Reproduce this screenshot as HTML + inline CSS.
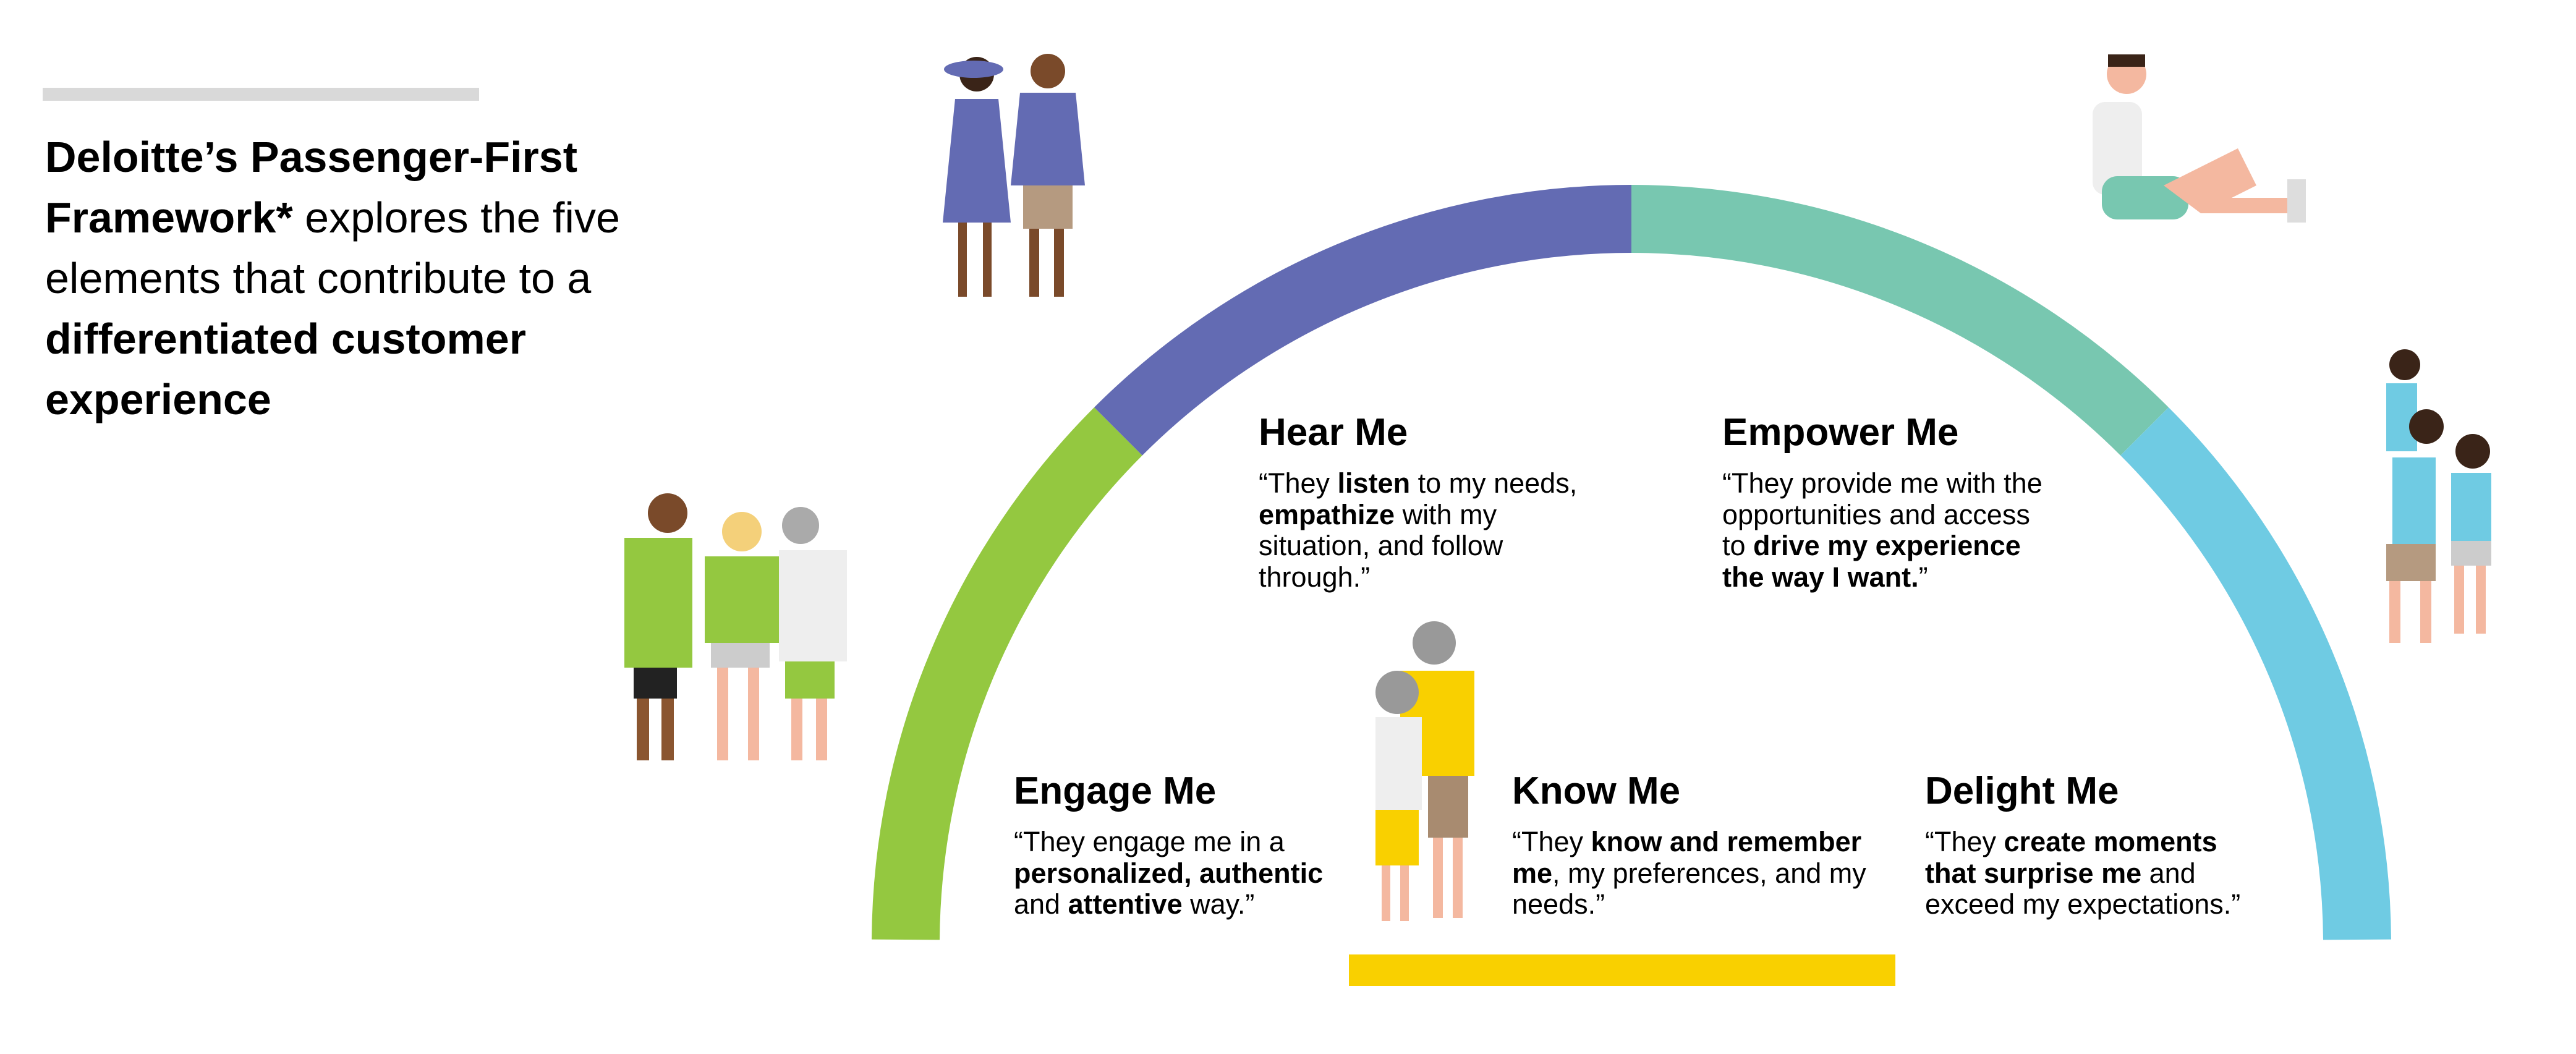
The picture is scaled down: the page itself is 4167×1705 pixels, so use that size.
<!DOCTYPE html>
<html><head><meta charset="utf-8"><style>
html,body{margin:0;padding:0;background:#fff;}
body{width:4167px;height:1705px;position:relative;overflow:hidden;font-family:"Liberation Sans",sans-serif;color:#000;}
.t{position:absolute;}
.title{left:73px;top:205px;font-size:70px;line-height:98px;width:1150px;white-space:nowrap;}
h2{position:absolute;margin:0;font-size:62px;font-weight:bold;line-height:70px;}
.b{position:absolute;font-size:45px;line-height:50.5px;white-space:nowrap;}
svg{position:absolute;left:0;top:0;}
</style></head><body>
<svg width="4167" height="1705" viewBox="0 0 4167 1705">
<rect x="69" y="142" width="706" height="21" fill="#d9d9d9"/>
<g fill="none" stroke-width="110">
<path d="M1465 1520 A1174 1174 0 0 1 1808.9 697.9" stroke="#94c840"/>
<path d="M1808.9 697.9 A1174 1174 0 0 1 2639 354" stroke="#636bb3"/>
<path d="M2639 354 A1174 1174 0 0 1 3469.1 697.9" stroke="#78c7b0"/>
<path d="M3469.1 697.9 A1174 1174 0 0 1 3813 1520" stroke="#6fcbe3"/>
</g>
<rect x="2182" y="1544" width="884" height="51" fill="#f9d000"/>
<g>
<circle cx="1580" cy="120" r="28" fill="#3a2418"/><ellipse cx="1575" cy="112" rx="48" ry="14" fill="#636bb3"/>
<path d="M1545 160 h70 l20 200 h-110z" fill="#636bb3"/>
<rect x="1550" y="360" width="14" height="120" fill="#7a4a2a"/><rect x="1590" y="360" width="14" height="120" fill="#7a4a2a"/>
<circle cx="1695" cy="115" r="28" fill="#7a4a2a"/>
<path d="M1650 150 h90 l15 150 h-120z" fill="#636bb3"/>
<rect x="1655" y="300" width="80" height="70" fill="#b59a80"/>
<rect x="1665" y="370" width="16" height="110" fill="#7a4a2a"/><rect x="1705" y="370" width="16" height="110" fill="#7a4a2a"/>
</g>
<g>
<circle cx="1080" cy="830" r="32" fill="#7a4a2a"/><rect x="1010" y="870" width="110" height="210" fill="#94c840"/>
<rect x="1025" y="1080" width="70" height="50" fill="#222"/><rect x="1030" y="1130" width="20" height="100" fill="#8a5530"/><rect x="1070" y="1130" width="20" height="100" fill="#8a5530"/>
<circle cx="1200" cy="860" r="32" fill="#f4d07a"/><rect x="1140" y="900" width="120" height="140" fill="#94c840"/>
<rect x="1150" y="1040" width="95" height="40" fill="#ccc"/><rect x="1160" y="1080" width="18" height="150" fill="#f4b8a0"/><rect x="1210" y="1080" width="18" height="150" fill="#f4b8a0"/>
<circle cx="1295" cy="850" r="30" fill="#aaa"/><rect x="1260" y="890" width="110" height="180" fill="#eee"/>
<rect x="1270" y="1070" width="80" height="60" fill="#94c840"/><rect x="1280" y="1130" width="18" height="100" fill="#f4b8a0"/><rect x="1320" y="1130" width="18" height="100" fill="#f4b8a0"/>
</g>
<g>
<circle cx="2320" cy="1040" r="35" fill="#999"/><rect x="2265" y="1085" width="120" height="170" fill="#f9d000"/>
<rect x="2310" y="1255" width="65" height="100" fill="#a88b70"/><rect x="2318" y="1355" width="16" height="130" fill="#f4b8a0"/><rect x="2350" y="1355" width="16" height="130" fill="#f4b8a0"/>
<circle cx="2260" cy="1120" r="35" fill="#999"/><rect x="2225" y="1160" width="75" height="150" fill="#eee"/>
<rect x="2225" y="1310" width="70" height="90" fill="#f9d000"/><rect x="2235" y="1400" width="14" height="90" fill="#f4b8a0"/><rect x="2265" y="1400" width="14" height="90" fill="#f4b8a0"/>
</g>
<g>
<circle cx="3440" cy="120" r="32" fill="#f4b8a0"/><rect x="3410" y="88" width="60" height="20" fill="#3a2418"/>
<rect x="3385" y="165" width="80" height="150" rx="20" fill="#eee"/>
<rect x="3400" y="285" width="140" height="70" rx="25" fill="#78c7b0"/>
<path d="M3500 300 L3620 240 L3650 300 L3560 345z" fill="#f4b8a0"/>
<rect x="3560" y="320" width="170" height="25" fill="#f4b8a0"/><rect x="3700" y="290" width="30" height="70" fill="#ddd"/>
</g>
<g>
<circle cx="3890" cy="590" r="25" fill="#3a2418"/><rect x="3860" y="620" width="50" height="110" fill="#6fcbe3"/>
<circle cx="3925" cy="690" r="28" fill="#3a2418"/><rect x="3870" y="740" width="70" height="150" fill="#6fcbe3"/>
<rect x="3860" y="880" width="80" height="60" fill="#b59a80"/><rect x="3865" y="940" width="18" height="100" fill="#f4b8a0"/><rect x="3915" y="940" width="18" height="100" fill="#f4b8a0"/>
<circle cx="4000" cy="730" r="28" fill="#3a2418"/><rect x="3965" y="765" width="65" height="110" fill="#6fcbe3"/>
<rect x="3965" y="875" width="65" height="40" fill="#ccc"/><rect x="3970" y="915" width="16" height="110" fill="#f4b8a0"/><rect x="4005" y="915" width="16" height="110" fill="#f4b8a0"/>
</g>
</svg>

<div class="t title"><b>Deloitte’s Passenger-First</b><br><b>Framework*</b> explores the five<br>elements that contribute to a<br><b>differentiated customer</b><br><b>experience</b></div>

<h2 style="left:2036px;top:665px;">Hear Me</h2>
<div class="b" style="left:2036px;top:757px;">“They <b>listen</b> to my needs,<br><b>empathize</b> with my<br>situation, and follow<br>through.”</div>

<h2 style="left:2786px;top:665px;">Empower Me</h2>
<div class="b" style="left:2786px;top:757px;">“They provide me with the<br>opportunities and access<br>to <b>drive my experience</b><br><b>the way I want.</b>”</div>

<h2 style="left:1640px;top:1245px;">Engage Me</h2>
<div class="b" style="left:1640px;top:1337px;">“They engage me in a<br><b>personalized, authentic</b><br>and <b>attentive</b> way.”</div>

<h2 style="left:2446px;top:1245px;">Know Me</h2>
<div class="b" style="left:2446px;top:1337px;">“They <b>know and remember</b><br><b>me</b>, my preferences, and my<br>needs.”</div>

<h2 style="left:3114px;top:1245px;">Delight Me</h2>
<div class="b" style="left:3114px;top:1337px;">“They <b>create moments</b><br><b>that surprise me</b> and<br>exceed my expectations.”</div>
</body></html>
